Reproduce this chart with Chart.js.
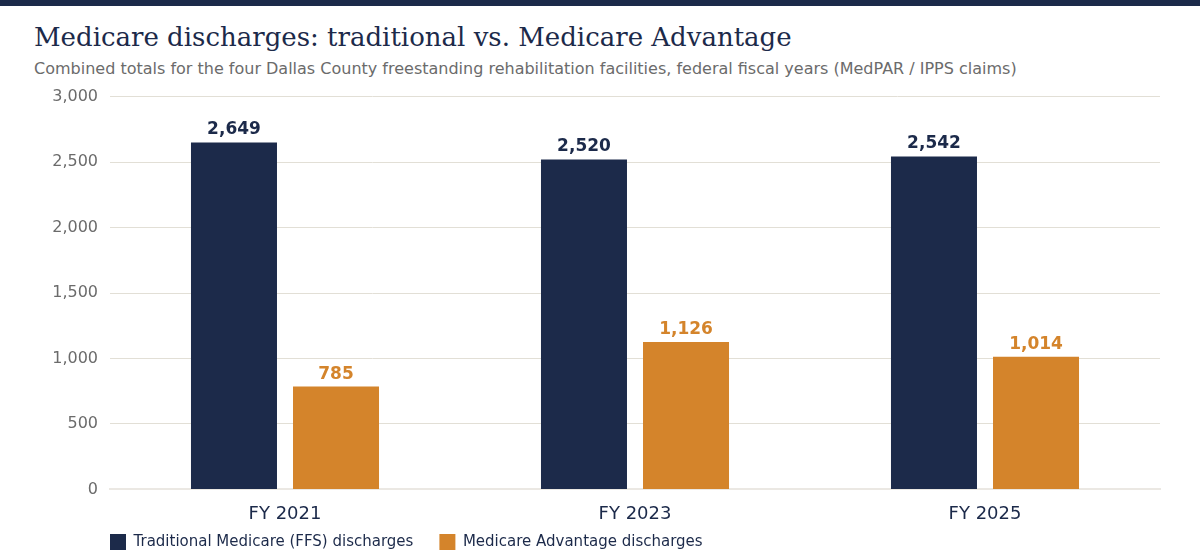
<!DOCTYPE html>
<html><head><meta charset="utf-8">
<script src="https://cdn.jsdelivr.net/npm/chart.js@4"></script>
<style>
html,body{margin:0;padding:0;background:#fff;width:1200px;height:560px;overflow:hidden}
#topbar{position:absolute;left:0;top:0;width:1200px;height:6px;background:#1c2a4a}
#title{position:absolute;left:34px;top:22px;font-family:"DejaVu Serif",serif;font-size:26px;color:#1c2a4a;white-space:nowrap}
#sub{position:absolute;left:34px;top:59px;font-family:"DejaVu Sans",sans-serif;font-size:16px;color:#6b6b6b;white-space:nowrap}
#wrap{position:absolute;left:0;top:75px;width:1200px;height:485px}
</style></head><body>
<div id="topbar"></div>
<div id="title">Medicare discharges: traditional vs. Medicare Advantage</div>
<div id="sub">Combined totals for the four Dallas County freestanding rehabilitation facilities, federal fiscal years (MedPAR / IPPS claims)</div>
<div id="wrap"><canvas id="c" width="1200" height="485"></canvas></div>
<script>
const categories = ["FY 2021", "FY 2023", "FY 2025"];
const ffsValues = [2649, 2520, 2542];
const maValues = [785, 1126, 1014];
const seriesNames = ["Traditional Medicare (FFS) discharges", "Medicare Advantage discharges"];
const yTicks = [0, 500, 1000, 1500, 2000, 2500, 3000];

const NAVY = "#1c2a4a", ORANGE = "#d4842b";
const fmt = v => v.toLocaleString("en-US");
const LEG_PAD = 26;

const labelPlugin = {
  id: "barLabels",
  afterDatasetsDraw(chart) {
    const ctx = chart.ctx;
    ctx.save();
    ctx.font = "bold 17px 'DejaVu Sans'";
    ctx.textAlign = "center";
    ctx.textBaseline = "bottom";
    chart.data.datasets.forEach((ds, i) => {
      const meta = chart.getDatasetMeta(i);
      ctx.fillStyle = ds.backgroundColor;
      meta.data.forEach((bar, j) => {
        ctx.fillText(fmt(ds.data[j]), bar.x, bar.y - 4);
      });
    });
    ctx.restore();
  }
};
const legendShift = {
  id: "legendShift",
  afterLayout(chart) {
    const lg = chart.legend;
    if (lg) {
      const w = lg.width, h = lg.height;
      lg.left = chart.chartArea.left - LEG_PAD; lg.right = lg.left + w;
      lg.top = 433; lg.bottom = lg.top + h;
    }
  }
};

new Chart(document.getElementById("c"), {
  type: "bar",
  data: {
    labels: categories,
    datasets: [
      { label: seriesNames[0], data: ffsValues, backgroundColor: NAVY },
      { label: seriesNames[1], data: maValues, backgroundColor: ORANGE }
    ]
  },
  options: {
    responsive: false,
    animation: false,
    layout: { padding: { left: 34, right: 40, top: 0, bottom: -31 } },
    datasets: { bar: { barPercentage: 0.843, categoryPercentage: 0.583 } },
    scales: {
      x: {
        grid: { display: false, drawTicks: false },
        border: { color: "#ebe8e3", width: 2 },
        ticks: { color: NAVY, font: { family: "DejaVu Sans", size: 18 }, padding: 14 }
      },
      y: {
        min: 0, max: 3000,
        afterBuildTicks(s) { s.ticks = yTicks.map(v => ({ value: v })); },
        afterFit(s) { s.width = 76; },
        grid: { color: "#e2dfd6", drawTicks: false },
        border: { display: false },
        ticks: { color: "#6b6b6b", font: { family: "DejaVu Sans", size: 16 }, padding: 12, callback: v => fmt(v) }
      }
    },
    plugins: {
      legend: {
        position: "bottom", align: "start",
        labels: { boxWidth: 16, boxHeight: 16, padding: LEG_PAD, color: NAVY, font: { family: "DejaVu Sans", size: 15 } }
      },
      tooltip: { enabled: false }
    }
  },
  plugins: [labelPlugin, legendShift]
});
</script>
</body></html>
